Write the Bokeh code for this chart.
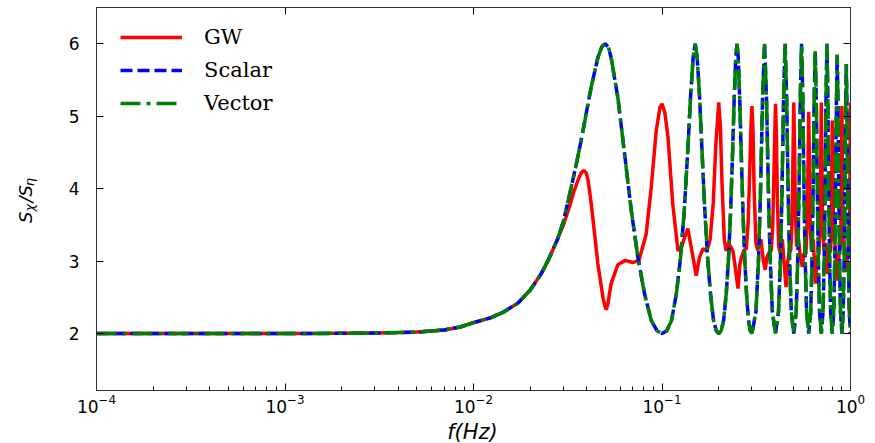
from math import pi
from bokeh.plotting import figure
from bokeh.models import (Range1d, FixedTicker, LogAxis, LinearAxis, Legend, LegendItem,
                          Label, LogTickFormatter, CustomJSTickFormatter)
from bokeh.embed import file_html
from bokeh.resources import INLINE

# ---------------- data ----------------
# common low-frequency part of all three curves
f_low = [1e-4, 2e-4, 5e-4, 1e-3, 2e-3, 3e-3, 4e-3, 5e-3, 6e-3, 7e-3, 8.5e-3,
         0.010, 0.0124, 0.0145, 0.0172, 0.020, 0.0228, 0.025, 0.028]
v_low = [2.0, 2.0, 2.0, 2.0, 2.003, 2.008, 2.013, 2.02, 2.035, 2.05, 2.09,
         2.15, 2.22, 2.30, 2.42, 2.60, 2.82, 3.02, 3.31]

# GW response ratio
f_gw = f_low + [
    0.030, 0.032, 0.034, 0.036, 0.0373, 0.0385, 0.0396, 0.0405, 0.0421, 0.044, 0.0457, 0.0486,
    0.0498, 0.0506, 0.0516,
    0.0537, 0.0583, 0.0638, 0.070, 0.0755, 0.0824, 0.0877, 0.0932, 0.0975, 0.100,
    0.1035, 0.1076, 0.114, 0.1216, 0.127, 0.137, 0.145, 0.152, 0.158, 0.165, 0.173,
    0.180, 0.187, 0.193, 0.200,
    0.204, 0.208, 0.214, 0.219, 0.226, 0.238, 0.245, 0.253, 0.259, 0.264, 0.272,
    0.280, 0.286, 0.291, 0.296, 0.300,
    0.304, 0.308, 0.315, 0.322, 0.335, 0.345, 0.353, 0.360, 0.370, 0.380, 0.387, 0.393, 0.400,
    0.404, 0.409, 0.416, 0.425, 0.435, 0.445, 0.455, 0.462, 0.472, 0.482, 0.489, 0.495, 0.500,
    0.505, 0.510, 0.518, 0.530, 0.540, 0.555, 0.565, 0.580, 0.590, 0.600,
    0.605, 0.610, 0.620, 0.635, 0.651, 0.665, 0.680, 0.690, 0.700,
    0.706, 0.712, 0.725, 0.740, 0.755, 0.770, 0.785, 0.793, 0.800,
    0.806, 0.813, 0.830, 0.850, 0.870, 0.885, 0.893, 0.900,
    0.906, 0.913, 0.930, 0.950, 0.970, 0.985, 0.993, 1.000]
v_gw = v_low + [
    3.50, 3.72, 3.95, 4.13, 4.22, 4.25, 4.22, 4.12, 3.80, 3.35, 2.96, 2.50,
    2.38, 2.33, 2.40,
    2.69, 2.95, 3.01, 2.98, 3.01, 3.37, 4.02, 4.80, 5.12, 5.17,
    5.05, 4.71, 3.79, 3.14, 3.20, 3.45, 3.10, 2.80, 3.05, 3.17, 3.14,
    3.30, 3.80, 4.60, 5.19,
    4.85, 4.10, 3.30, 3.14, 3.25, 3.14, 2.90, 2.62, 2.95, 3.05, 3.15,
    3.17, 3.50, 4.10, 4.80, 5.14,
    4.80, 4.00, 3.25, 3.15, 3.30, 3.00, 2.88, 3.05, 3.12, 3.15, 3.50, 4.30, 5.17,
    4.80, 3.90, 3.20, 3.10, 3.30, 2.95, 2.64, 2.95, 3.10, 3.15, 3.50, 4.40, 5.19,
    4.60, 3.70, 3.20, 3.30, 3.10, 2.92, 3.10, 3.10, 3.60, 5.06,
    4.50, 3.60, 3.15, 3.30, 2.69, 3.05, 3.10, 3.60, 5.19,
    4.30, 3.40, 3.15, 3.25, 2.82, 3.10, 3.15, 3.70, 4.94,
    4.20, 3.35, 3.20, 2.73, 3.10, 3.20, 3.80, 5.14,
    4.30, 3.40, 3.20, 2.85, 3.10, 3.30, 4.10, 5.19]

# Scalar response ratio
f_scalar = f_low + [
    0.030, 0.033, 0.035, 0.0372, 0.0395, 0.0421, 0.0457, 0.048, 0.050,
    0.052, 0.0537, 0.0583, 0.0633, 0.0687, 0.0745, 0.0808, 0.0877, 0.094, 0.100,
    0.106, 0.1123, 0.1192, 0.1255, 0.1313, 0.1367, 0.1417, 0.1463, 0.150,
    0.1537, 0.1583, 0.1633, 0.1687, 0.1745, 0.1808, 0.1877, 0.194, 0.200,
    0.206, 0.2123, 0.2192, 0.2255, 0.2313, 0.2367, 0.2417, 0.2463, 0.250,
    0.2537, 0.2583, 0.2633, 0.2687, 0.2745, 0.2808, 0.2877, 0.294, 0.300,
    0.315, 0.3255, 0.333, 0.3417, 0.350, 0.3583, 0.367, 0.3745, 0.385, 0.400,
    0.415, 0.4255, 0.433, 0.4417, 0.450, 0.4583, 0.467, 0.4745, 0.485, 0.500,
    0.515, 0.5255, 0.533, 0.5417, 0.550, 0.5583, 0.567, 0.5745, 0.585, 0.600,
    0.615, 0.6255, 0.633, 0.6417, 0.650, 0.6583, 0.667, 0.6745, 0.685, 0.700,
    0.715, 0.7255, 0.733, 0.7417, 0.750, 0.7583, 0.767, 0.7745, 0.785, 0.800,
    0.815, 0.8255, 0.833, 0.8417, 0.850, 0.8583, 0.867, 0.8745, 0.885, 0.900,
    0.915, 0.9255, 0.933, 0.9417, 0.950, 0.9583, 0.967, 0.9745, 0.985, 1.000]
v_scalar = v_low + [
    3.55, 4.02, 4.32, 4.66, 5.02, 5.40, 5.81, 5.96, 6.00,
    5.95, 5.81, 5.26, 4.48, 3.70, 3.05, 2.55, 2.18, 2.04, 2.00,
    2.04, 2.18, 2.55, 3.05, 3.70, 4.48, 5.26, 5.81, 6.00,
    5.81, 5.26, 4.48, 3.70, 3.05, 2.55, 2.18, 2.04, 2.00,
    2.04, 2.18, 2.55, 3.05, 3.70, 4.48, 5.26, 5.81, 6.00,
    5.81, 5.26, 4.48, 3.70, 3.05, 2.55, 2.18, 2.04, 2.00,
    2.30, 3.05, 3.95, 5.26, 6.00, 5.26, 3.95, 3.05, 2.30, 2.00,
    2.30, 3.05, 3.95, 5.26, 6.00, 5.26, 3.95, 3.05, 2.30, 2.00,
    2.30, 3.05, 3.95, 5.26, 6.00, 5.26, 3.95, 3.05, 2.30, 2.00,
    2.30, 3.05, 3.95, 5.20, 5.90, 5.20, 3.95, 3.05, 2.30, 2.00,
    2.30, 3.05, 3.95, 5.26, 6.00, 5.26, 3.95, 3.05, 2.30, 2.00,
    2.30, 3.05, 3.95, 5.15, 5.85, 5.15, 3.95, 3.05, 2.30, 2.00,
    2.30, 3.05, 3.90, 5.05, 5.72, 5.05, 3.90, 3.05, 2.30, 2.00]

# Vector response ratio (coincides with the scalar one in the picture)
f_vector = list(f_scalar)
v_vector = list(v_scalar)

labels = ["GW", "Scalar", "Vector"]
x_ticks = [1e-4, 1e-3, 1e-2, 1e-1, 1.0]
x_minor = [m * d for d in [1e-4, 1e-3, 1e-2, 1e-1] for m in range(2, 10)]
y_ticks = [2, 3, 4, 5, 6]

# ---------------- figure ----------------
p = figure(width=875, height=443, x_axis_type="log",
           x_range=Range1d(1e-4, 1.0), y_range=Range1d(1.214, 6.5),
           output_backend="svg", toolbar_location=None,
           min_border_left=96, min_border_right=25, min_border_top=7, min_border_bottom=53)
p.grid.visible = False
p.outline_line_color = "#333333"
p.background_fill_color = "white"
p.border_fill_color = "white"

r_gw = p.line(f_gw, v_gw, line_color="#ff0000", line_width=3.5)
r_sc = p.line(f_scalar, v_scalar, line_color="#0000ff", line_width=3.5, line_dash="12 5")
r_ve = p.line(f_vector, v_vector, line_color="#008000", line_width=3.5, line_dash="20 6 4 6")

ax = p.xaxis[0]
ax.ticker = FixedTicker(ticks=x_ticks, minor_ticks=x_minor)
ax.formatter = LogTickFormatter()
ax.major_tick_in = 7
ax.major_tick_out = 0
ax.minor_tick_in = 4
ax.minor_tick_out = 0
ax.major_label_text_font = "DejaVu Sans"
ax.major_label_text_font_size = "17px"
ax.major_label_text_color = "black"
ax.major_label_standoff = 3
ax.axis_line_color = "#333333"

ay = p.yaxis[0]
ay.ticker = FixedTicker(ticks=y_ticks)
ay.major_tick_in = 7
ay.major_tick_out = 0
ay.minor_tick_in = 0
ay.minor_tick_out = 0
ay.major_label_text_font = "DejaVu Sans"
ay.major_label_text_font_size = "17px"
ay.major_label_text_color = "black"
ay.major_label_standoff = 17
ay.axis_line_color = "#333333"

blank = CustomJSTickFormatter(code="return ''")
right_ax = LinearAxis(ticker=FixedTicker(ticks=y_ticks), formatter=blank,
                      major_tick_in=7, major_tick_out=0, minor_tick_in=0, minor_tick_out=0,
                      major_label_text_font_size="0px", major_label_standoff=0,
                      axis_line_color="#333333")
p.add_layout(right_ax, "right")
top_ax = LogAxis(ticker=FixedTicker(ticks=x_ticks), formatter=blank,
                 major_tick_in=7, major_tick_out=0, minor_tick_in=0, minor_tick_out=0,
                 major_label_text_font_size="0px", major_label_standoff=0,
                 axis_line_color="#333333")
p.add_layout(top_ax, "above")

legend = Legend(items=[LegendItem(label=labels[0], renderers=[r_gw]),
                       LegendItem(label=labels[1], renderers=[r_sc]),
                       LegendItem(label=labels[2], renderers=[r_ve])],
                location=(24, 275), glyph_width=62, glyph_height=20, label_height=20,
                label_standoff=22, spacing=9, padding=10, margin=0,
                border_line_color=None, background_fill_alpha=0,
                label_text_font="DejaVu Serif", label_text_font_size="21px",
                label_text_color="black")
p.add_layout(legend)

# x-axis title (canvas coordinates, in the bottom panel)
p.add_layout(Label(x=472, y=431, x_units="canvas", y_units="canvas", text="f(Hz)",
                   text_font="DejaVu Sans", text_font_style="italic", text_font_size="21px",
                   text_color="black", text_align="center", text_baseline="alphabetic"),
             "below")

# y-axis title S_chi / S_eta: main letters + two subscripts, rotated (left panel)
ylab_parts = [("S\u2002/S", 18, 25, 222.4), ("\u03c7", 13, 29, 211.0), ("\u03b7", 13, 29, 185.8)]
for txt, size, xx, yy in ylab_parts:
    p.add_layout(Label(x=xx, y=yy, x_units="canvas", y_units="canvas", text=txt,
                       angle=pi / 2, text_font="DejaVu Sans", text_font_style="italic",
                       text_font_size=f"{size}px", text_color="black",
                       text_align="left", text_baseline="alphabetic"), "left")

open("out.html", "w").write(file_html(p, INLINE))
